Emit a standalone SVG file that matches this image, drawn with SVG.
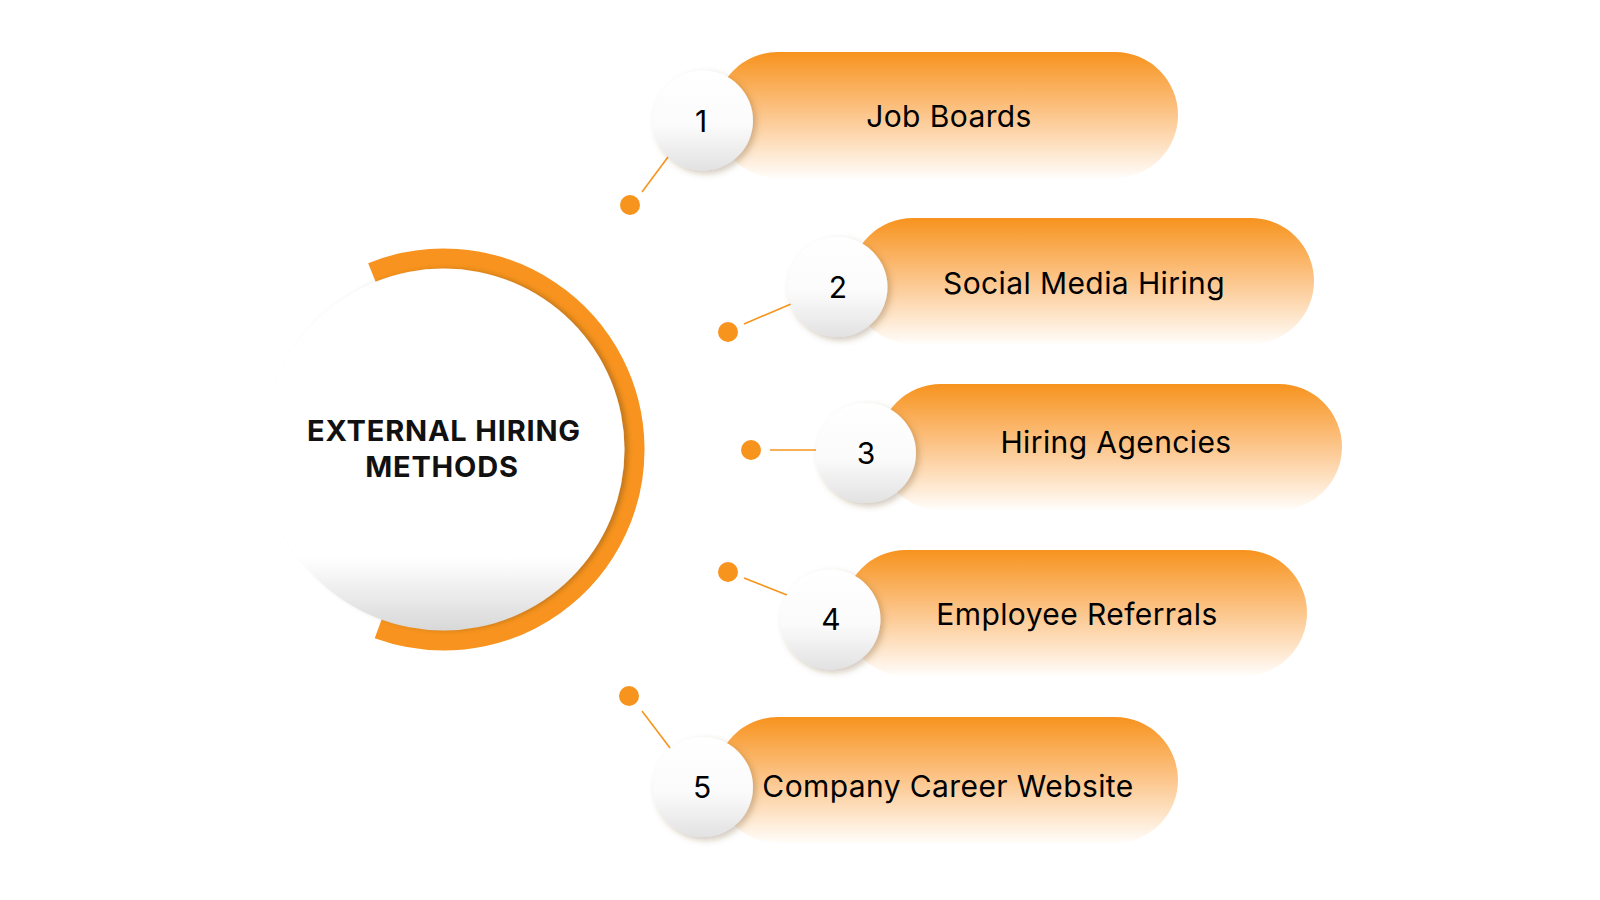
<svg xmlns="http://www.w3.org/2000/svg" width="1600" height="900" viewBox="0 0 1600 900">
<defs>
<linearGradient id="pillGrad" x1="0" y1="0" x2="0" y2="1">
<stop offset="0" stop-color="#F7931E"/>
<stop offset="0.5" stop-color="#FCC68C"/>
<stop offset="1" stop-color="#FFFDFA"/>
</linearGradient>
<linearGradient id="numGrad" x1="0" y1="0" x2="0" y2="1">
<stop offset="0" stop-color="#FFFFFF"/>
<stop offset="0.55" stop-color="#FBFBFB"/>
<stop offset="1" stop-color="#E2E2E2"/>
</linearGradient>
<linearGradient id="diskGrad" x1="0" y1="0" x2="0" y2="1">
<stop offset="0" stop-color="#FFFFFF"/>
<stop offset="0.8" stop-color="#FFFFFF"/>
<stop offset="1" stop-color="#D8D8D8"/>
</linearGradient>
<filter id="shadow" x="-30%" y="-30%" width="160%" height="160%">
<feDropShadow dx="3" dy="3" stdDeviation="3" flood-color="#6b4a1e" flood-opacity="0.3"/>
</filter>
<filter id="diskShadow" x="-20%" y="-20%" width="140%" height="140%">
<feDropShadow dx="4" dy="0" stdDeviation="2" flood-color="#6b4a1e" flood-opacity="0.35"/>
</filter>
</defs>
<style>
.pill { fill: url(#pillGrad); }
.num { fill: url(#numGrad); filter: url(#shadow); }
.numtxt { font-family: Inter, "Liberation Sans", sans-serif; font-size: 30px; font-weight: 400; fill: #000000; text-anchor: middle; }
.label { font-family: Inter, "Liberation Sans", sans-serif; font-size: 30px; font-weight: 400; fill: #000000; text-anchor: middle; letter-spacing: 0.4px; }
.title { font-family: Inter, "Liberation Sans", sans-serif; font-size: 29px; font-weight: 700; fill: #111111; text-anchor: middle; letter-spacing: 0.8px; }
.conn line { stroke: #F7941D; stroke-width: 1.6; }
.conn circle { fill: #F7941D; }
</style>
<rect width="1600" height="900" fill="#FFFFFF"/>

<g id="center">
<path d="M 372.1 272.9 A 190.5 190.5 0 1 1 378.3 628.5" fill="none" stroke="#F7931E" stroke-width="21"/>
<circle cx="443.5" cy="449.5" r="181" fill="url(#diskGrad)" filter="url(#diskShadow)"/>
<text class="title" x="444" y="441">EXTERNAL HIRING</text>
<text class="title" x="442" y="477">METHODS</text>
</g>

<g id="connectors" class="conn">
<line x1="642" y1="192" x2="668" y2="157"/>
<circle cx="630" cy="205" r="10"/>
<line x1="744" y1="324" x2="791" y2="304"/>
<circle cx="728" cy="332" r="10"/>
<line x1="770" y1="450" x2="816" y2="450"/>
<circle cx="751" cy="450" r="10"/>
<line x1="744" y1="578" x2="787" y2="595"/>
<circle cx="728" cy="572" r="10"/>
<line x1="642" y1="711" x2="670" y2="748"/>
<circle cx="629" cy="696" r="10"/>
</g>

<g id="node-1">
<rect class="pill" x="715" y="52" width="463" height="126" rx="63"/>
<circle class="num" cx="703" cy="120.5" r="50"/>
<text class="numtxt" x="701" y="132">1</text>
<text class="label" x="949" y="127">Job Boards</text>
</g>

<g id="node-2">
<rect class="pill" x="850" y="218" width="464" height="126" rx="63"/>
<circle class="num" cx="837.5" cy="287" r="50"/>
<text class="numtxt" x="838" y="298">2</text>
<text class="label" x="1084" y="294">Social Media Hiring</text>
</g>

<g id="node-3">
<rect class="pill" x="878" y="384" width="464" height="126" rx="63"/>
<circle class="num" cx="866" cy="453" r="50"/>
<text class="numtxt" x="866" y="464">3</text>
<text class="label" x="1116" y="453">Hiring Agencies</text>
</g>

<g id="node-4">
<rect class="pill" x="843" y="550" width="464" height="126" rx="63"/>
<circle class="num" cx="830.5" cy="619.5" r="50"/>
<text class="numtxt" x="831" y="630">4</text>
<text class="label" x="1077" y="625">Employee Referrals</text>
</g>

<g id="node-5">
<rect class="pill" x="715" y="717" width="463" height="126" rx="63"/>
<circle class="num" cx="703" cy="787" r="50"/>
<text class="numtxt" x="702" y="798">5</text>
<text class="label" x="948" y="797">Company Career Website</text>
</g>
</svg>
